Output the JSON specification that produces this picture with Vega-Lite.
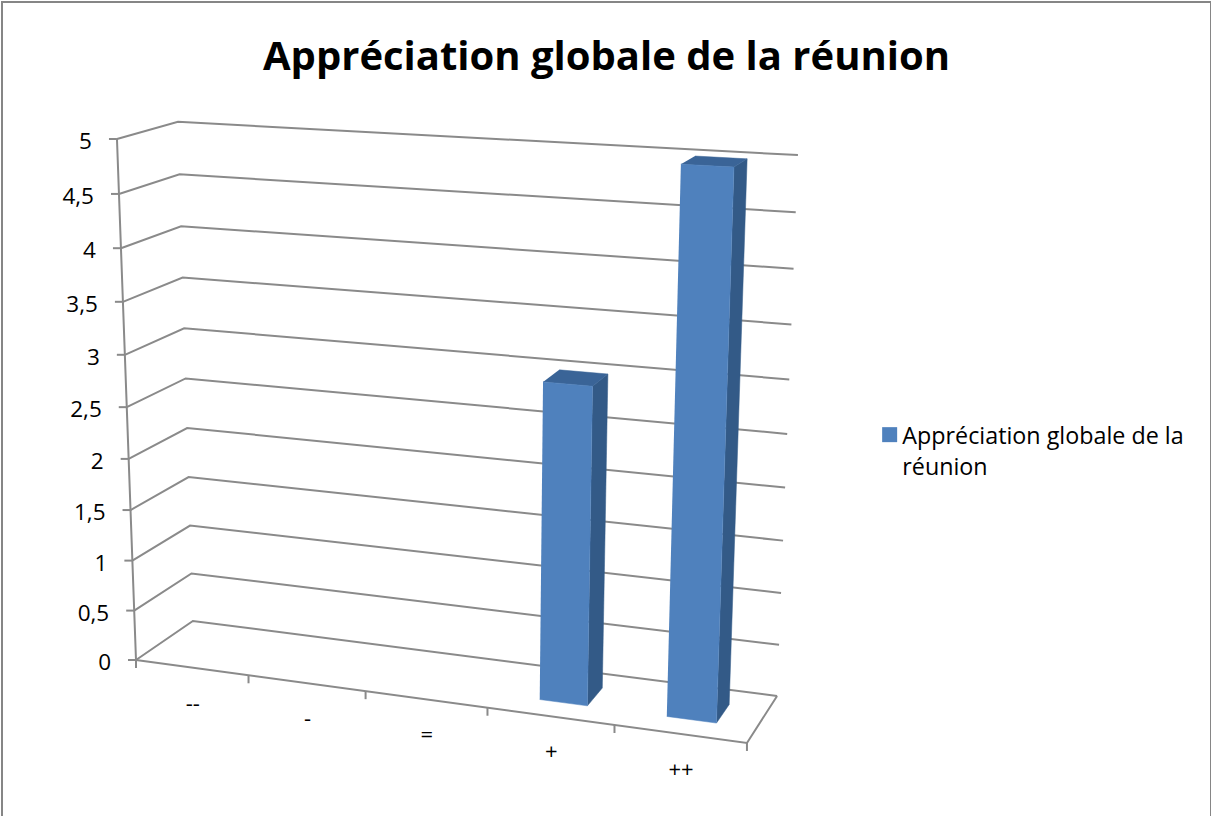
{
  "$schema": "https://vega.github.io/schema/vega-lite/v6.json",
  "autosize": {"type": "none"},
  "padding": {"left": 2, "top": 2, "right": 0, "bottom": 0},
  "width": 1209,
  "height": 815,
  "background": "white",
  "view": {"stroke": "#868686", "strokeWidth": 2, "fill": "white"},
  "config": {"font": "Open Sans"},
  "title": {
    "text": "Appréciation globale de la réunion",
    "font": "Open Sans",
    "fontSize": 40,
    "fontWeight": "bold",
    "color": "black",
    "anchor": "middle",
    "frame": "group",
    "baseline": "alphabetic",
    "offset": -108
  },
  "datasets": {
    "reponses": [
      {"categorie": "--", "rang": 0, "valeur": 0, "serie": "Appréciation globale de la réunion"},
      {"categorie": "-", "rang": 1, "valeur": 0, "serie": "Appréciation globale de la réunion"},
      {"categorie": "=", "rang": 2, "valeur": 0, "serie": "Appréciation globale de la réunion"},
      {"categorie": "+", "rang": 3, "valeur": 3, "serie": "Appréciation globale de la réunion"},
      {"categorie": "++", "rang": 4, "valeur": 5, "serie": "Appréciation globale de la réunion"}
    ],
    "graduations": [
      {"graduation": 0, "etiquette": "0"},
      {"graduation": 0.5, "etiquette": "0,5"},
      {"graduation": 1, "etiquette": "1"},
      {"graduation": 1.5, "etiquette": "1,5"},
      {"graduation": 2, "etiquette": "2"},
      {"graduation": 2.5, "etiquette": "2,5"},
      {"graduation": 3, "etiquette": "3"},
      {"graduation": 3.5, "etiquette": "3,5"},
      {"graduation": 4, "etiquette": "4"},
      {"graduation": 4.5, "etiquette": "4,5"},
      {"graduation": 5, "etiquette": "5"}
    ],
    "bornes": [
      {"borne": 0}, {"borne": 1}, {"borne": 2}, {"borne": 3}, {"borne": 4}, {"borne": 5}
    ]
  },
  "encoding": {
    "x": {"field": "px", "type": "quantitative", "axis": null, "scale": {"domain": [2, 1211], "nice": false, "zero": false}},
    "y": {"field": "py", "type": "quantitative", "axis": null, "scale": {"domain": [817, 2], "nice": false, "zero": false}}
  },
  "layer": [
    {
      "description": "Lignes de graduation : paroi gauche puis paroi du fond",
      "data": {"name": "graduations"},
      "transform": [
        {"calculate": "[0,1,2]", "as": "sommet"},
        {"flatten": ["sommet"]},
        {"calculate": "datum.sommet == 2 ? 1 : 0", "as": "u"},
        {"calculate": "datum.sommet == 0 ? 0 : 1", "as": "d"},
        {"calculate": "datum.graduation / 5", "as": "h"},
        {"calculate": "(136+538.5*datum.u+65.7*datum.d-2.9*datum.u*datum.d-25.7*datum.h)/(1-0.097*datum.u+0.0458*datum.d-0.057*datum.h)", "as": "px"},
        {"calculate": "(660+10.9*datum.u-10.6*datum.d-528.9*datum.h+6.9*datum.u*datum.h)/(1-0.097*datum.u+0.0458*datum.d-0.057*datum.h)", "as": "py"}
      ],
      "mark": {"type": "line", "stroke": "#8a8a8a", "strokeWidth": 2},
      "encoding": {
        "detail": {"field": "graduation"},
        "order": {"field": "sommet", "type": "ordinal"}
      }
    },
    {
      "description": "Contour du plancher",
      "data": {"name": "graduations"},
      "transform": [
        {"filter": "datum.graduation == 0"},
        {"calculate": "[0,1,2]", "as": "sommet"},
        {"flatten": ["sommet"]},
        {"calculate": "datum.sommet == 2 ? 0 : 1", "as": "u"},
        {"calculate": "datum.sommet == 0 ? 1 : 0", "as": "d"},
        {"calculate": "0", "as": "h"},
        {"calculate": "(136+538.5*datum.u+65.7*datum.d-2.9*datum.u*datum.d-25.7*datum.h)/(1-0.097*datum.u+0.0458*datum.d-0.057*datum.h)", "as": "px"},
        {"calculate": "(660+10.9*datum.u-10.6*datum.d-528.9*datum.h+6.9*datum.u*datum.h)/(1-0.097*datum.u+0.0458*datum.d-0.057*datum.h)", "as": "py"}
      ],
      "mark": {"type": "line", "stroke": "#8a8a8a", "strokeWidth": 2},
      "encoding": {"order": {"field": "sommet", "type": "ordinal"}}
    },
    {
      "description": "Axe des valeurs",
      "data": {"name": "graduations"},
      "transform": [
        {"calculate": "datum.graduation / 5", "as": "h"},
        {"calculate": "(136-25.7*datum.h)/(1-0.057*datum.h)", "as": "px"},
        {"calculate": "(660-528.9*datum.h)/(1-0.057*datum.h)", "as": "py"}
      ],
      "mark": {"type": "line", "stroke": "#8a8a8a", "strokeWidth": 2},
      "encoding": {"order": {"field": "graduation", "type": "quantitative"}}
    },
    {
      "description": "Taquets de l'axe des valeurs",
      "data": {"name": "graduations"},
      "transform": [
        {"calculate": "datum.graduation / 5", "as": "h"},
        {"calculate": "(136-25.7*datum.h)/(1-0.057*datum.h)", "as": "px"},
        {"calculate": "(660-528.9*datum.h)/(1-0.057*datum.h)", "as": "py"},
        {"calculate": "datum.px - 8", "as": "px2"}
      ],
      "mark": {"type": "rule", "stroke": "#8a8a8a", "strokeWidth": 2},
      "encoding": {"x2": {"field": "px2"}, "y2": {"field": "py"}}
    },
    {
      "description": "Taquets de l'axe des catégories",
      "data": {"name": "bornes"},
      "transform": [
        {"calculate": "datum.borne / 5", "as": "u"},
        {"calculate": "(136+538.5*datum.u)/(1-0.097*datum.u)", "as": "px"},
        {"calculate": "(660+10.9*datum.u)/(1-0.097*datum.u)", "as": "py"},
        {"calculate": "datum.py + 8", "as": "py2"}
      ],
      "mark": {"type": "rule", "stroke": "#8a8a8a", "strokeWidth": 2},
      "encoding": {"x2": {"field": "px"}, "y2": {"field": "py2"}}
    },
    {
      "description": "Étiquettes de valeurs",
      "data": {"name": "graduations"},
      "transform": [
        {"calculate": "datum.graduation / 5", "as": "h"},
        {"calculate": "(136-25.7*datum.h)/(1-0.057*datum.h)", "as": "px"},
        {"calculate": "(660-528.9*datum.h)/(1-0.057*datum.h)", "as": "py"}
      ],
      "mark": {"type": "text", "align": "right", "baseline": "middle", "dx": -25, "dy": 3, "font": "Open Sans", "fontSize": 22.5, "fill": "black"},
      "encoding": {"text": {"field": "etiquette"}}
    },
    {
      "description": "Étiquettes de catégories",
      "data": {"name": "reponses"},
      "transform": [
        {"calculate": "(datum.rang + 0.5) / 5", "as": "u"},
        {"calculate": "(136+538.5*datum.u)/(1-0.097*datum.u)", "as": "px"},
        {"calculate": "(660+10.9*datum.u)/(1-0.097*datum.u)", "as": "py"}
      ],
      "mark": {"type": "text", "align": "center", "baseline": "middle", "dx": 1, "dy": 36, "font": "Open Sans", "fontSize": 22, "fill": "black"},
      "encoding": {"text": {"field": "categorie"}}
    },
    {
      "description": "Flanc droit des barres",
      "data": {"name": "reponses"},
      "transform": [
        {"filter": "datum.valeur > 0"},
        {"calculate": "[0,1,2,3]", "as": "sommet"},
        {"flatten": ["sommet"]},
        {"calculate": "(datum.rang + 0.7) / 5", "as": "u"},
        {"calculate": "datum.sommet == 0 || datum.sommet == 3 ? 0.3 : 0.7", "as": "d"},
        {"calculate": "datum.sommet < 2 ? 0 : datum.valeur / 5", "as": "h"},
        {"calculate": "(136+538.5*datum.u+62.7*datum.d-25.7*datum.h)/(1-0.097*datum.u+0.0458*datum.d-0.057*datum.h)", "as": "px"},
        {"calculate": "(660+10.9*datum.u-10.6*datum.d-528.9*datum.h+6.9*datum.u*datum.h)/(1-0.097*datum.u+0.0458*datum.d-0.057*datum.h)", "as": "py"}
      ],
      "mark": {"type": "line", "fill": "#335a87", "stroke": "#335a87", "strokeWidth": 0.5},
      "encoding": {
        "detail": {"field": "categorie"},
        "order": {"field": "sommet", "type": "ordinal"}
      }
    },
    {
      "description": "Dessus des barres",
      "data": {"name": "reponses"},
      "transform": [
        {"filter": "datum.valeur > 0"},
        {"calculate": "[0,1,2,3]", "as": "sommet"},
        {"flatten": ["sommet"]},
        {"calculate": "datum.sommet == 1 || datum.sommet == 2 ? (datum.rang + 0.7) / 5 : (datum.rang + 0.32) / 5", "as": "u"},
        {"calculate": "datum.sommet < 2 ? 0.3 : 0.7", "as": "d"},
        {"calculate": "datum.valeur / 5", "as": "h"},
        {"calculate": "(136+538.5*datum.u+62.7*datum.d-25.7*datum.h)/(1-0.097*datum.u+0.0458*datum.d-0.057*datum.h)", "as": "px"},
        {"calculate": "(660+10.9*datum.u-10.6*datum.d-528.9*datum.h+6.9*datum.u*datum.h)/(1-0.097*datum.u+0.0458*datum.d-0.057*datum.h)", "as": "py"}
      ],
      "mark": {"type": "line", "fill": "#3a6497", "stroke": "#3a6497", "strokeWidth": 0.5},
      "encoding": {
        "detail": {"field": "categorie"},
        "order": {"field": "sommet", "type": "ordinal"}
      }
    },
    {
      "description": "Face avant des barres, porteuse de la légende",
      "data": {"name": "reponses"},
      "transform": [
        {"filter": "datum.valeur > 0"},
        {"calculate": "[0,1,2,3]", "as": "sommet"},
        {"flatten": ["sommet"]},
        {"calculate": "datum.sommet == 1 || datum.sommet == 2 ? (datum.rang + 0.7) / 5 : (datum.rang + 0.32) / 5", "as": "u"},
        {"calculate": "0.3", "as": "d"},
        {"calculate": "datum.sommet < 2 ? 0 : datum.valeur / 5", "as": "h"},
        {"calculate": "(136+538.5*datum.u+62.7*datum.d-25.7*datum.h)/(1-0.097*datum.u+0.0458*datum.d-0.057*datum.h)", "as": "px"},
        {"calculate": "(660+10.9*datum.u-10.6*datum.d-528.9*datum.h+6.9*datum.u*datum.h)/(1-0.097*datum.u+0.0458*datum.d-0.057*datum.h)", "as": "py"}
      ],
      "mark": {"type": "line", "stroke": "#4f81bd", "strokeWidth": 0.5},
      "encoding": {
        "detail": {"field": "categorie"},
        "order": {"field": "sommet", "type": "ordinal"},
        "fill": {
          "field": "serie",
          "type": "nominal",
          "scale": {"range": ["#4f81bd"]},
          "legend": {
            "title": null,
            "orient": "none",
            "legendX": 876,
            "legendY": 421,
            "symbolType": "square",
            "symbolSize": 225,
            "symbolStrokeWidth": 0,
            "labelFont": "Open Sans",
            "labelFontSize": 23.3,
            "labelColor": "black",
            "labelLimit": 320,
            "labelOffset": 1,
            "labelExpr": "['Appréciation globale de la', 'réunion']",
            "encoding": {
              "labels": {
                "lineHeight": {"value": 31},
                "dy": {"value": 2}
              }
            }
          }
        }
      }
    }
  ]
}
